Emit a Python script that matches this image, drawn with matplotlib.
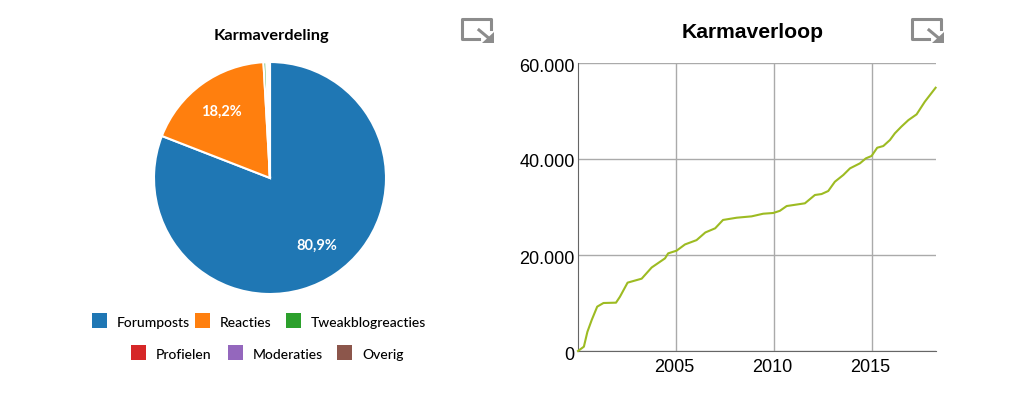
import matplotlib
matplotlib.use('Agg')
import matplotlib.pyplot as plt
from matplotlib.patches import Rectangle, Polygon
from matplotlib.ticker import FuncFormatter
from matplotlib.transforms import ScaledTranslation

W, H = 1025, 394

# pie data
pie_labels = ['Forumposts', 'Reacties', 'Tweakblogreacties', 'Profielen', 'Moderaties', 'Overig']
pie_values = [80.9, 18.2, 0.4, 0.2, 0.1, 0.2]
pie_colors = ['#1f77b4', '#ff7f0e', '#2ca02c', '#d62728', '#9467bd', '#8c564b']

# karma over time
years = [2000.0, 2000.3, 2000.48, 2000.7, 2000.98, 2001.3, 2001.94, 2002.14, 2002.53, 2003.25,
         2003.76, 2004.44, 2004.6, 2005.03, 2005.46, 2006.05, 2006.5, 2007.0, 2007.4, 2008.1,
         2008.86, 2009.45, 2009.96, 2010.3, 2010.65, 2011.58, 2012.09, 2012.43, 2012.77, 2013.11,
         2013.54, 2013.88, 2014.39, 2014.69, 2014.98, 2015.27, 2015.58, 2015.92, 2016.17, 2016.5,
         2016.86, 2017.28, 2017.7, 2018.25]
karma = [0, 900, 4000, 6460, 9240, 10000, 10070, 11300, 14240, 15070,
         17400, 19300, 20340, 20900, 22200, 23100, 24700, 25560, 27300, 27770,
         28050, 28600, 28750, 29200, 30200, 30770, 32500, 32700, 33330, 35270,
         36670, 38050, 39100, 40130, 40625, 42350, 42700, 43960, 45350, 46730,
         48100, 49300, 51940, 54850]
y_ticks = [0, 20000, 40000, 60000]
x_ticks = [2005, 2010, 2015]

fig = plt.figure(figsize=(W / 100, H / 100), dpi=100, facecolor='white')


def px_axes(left, top, right, bottom):
    return fig.add_axes([left / W, 1 - bottom / H, (right - left) / W, (bottom - top) / H])


def pct(p):
    # small slices get no label
    return f'{p:.1f}%'.replace('.', ',') if p > 5 else ''


# pie
ax1 = px_axes(154, 62, 386, 294)
wedges, texts, autotexts = ax1.pie(pie_values, colors=pie_colors, startangle=90, counterclock=False,
                                   autopct=pct, pctdistance=0.71,
                                   wedgeprops={'edgecolor': 'white', 'linewidth': 1.5})
ax1.set_xlim(-1, 1)
ax1.set_ylim(-1, 1)
for t in autotexts:
    t.set_color('white')
    t.set_fontsize(10.5)
    t.set_fontfamily('Lato')
    t.set_fontweight('bold')

fig.text(271 / W, 1 - 36 / H, 'Karmaverdeling', family='Lato', weight='bold', fontsize=11.8,
         ha='center', va='center', color='black')

# legend, laid out by hand in two rows
legend_x = [92, 195, 286, 131, 228, 337]
legend_y = [320, 320, 320, 352, 352, 352]
for name, col, lx, ly in zip(pie_labels, pie_colors, legend_x, legend_y):
    fig.add_artist(Rectangle((lx / W, 1 - (ly + 7.5) / H), 15 / W, 15 / H, color=col,
                             transform=fig.transFigure, lw=0))
    fig.text((lx + 25) / W, 1 - (ly + 3) / H, name, family='Lato', weight='medium', fontsize=10,
             ha='left', va='center', color='black')

# line chart
ax2 = px_axes(578, 63, 936, 351)
ax2.plot(years, karma, color='#9dbb22', lw=1.5, clip_on=False, zorder=3)
ax2.set_xlim(2000, 2018.27)
ax2.set_ylim(0, 60000)
ax2.set_xticks(x_ticks)
ax2.set_yticks(y_ticks)
ax2.yaxis.set_major_formatter(FuncFormatter(lambda v, _: f'{int(v):,}'.replace(',', '.')))
ax2.grid(True, color='#aaaaaa', lw=1)
ax2.set_axisbelow(True)
ax2.tick_params(axis='x', length=0, labelsize=13, pad=6, labelcolor='black')
ax2.tick_params(axis='y', length=0, labelsize=13, pad=2.5, labelcolor='black')
# labels sit a little lower / further left than the defaults
for lab in ax2.get_xticklabels():
    lab.set_fontfamily('Liberation Sans')
    lab.set_transform(lab.get_transform() + ScaledTranslation(-2 / 100, 0, fig.dpi_scale_trans))
for lab in ax2.get_yticklabels():
    lab.set_fontfamily('Liberation Sans')
    lab.set_transform(lab.get_transform() + ScaledTranslation(0, -2 / 100, fig.dpi_scale_trans))
ax2.spines['top'].set_visible(False)
ax2.spines['right'].set_visible(False)
ax2.spines['left'].set_color('#666666')
ax2.spines['bottom'].set_color('#666666')
fig.text(753 / W, 1 - 32 / H, 'Karmaverloop', family='Liberation Sans', weight='bold', fontsize=15.2,
         ha='center', va='center', color='black')


# expand icon above each chart
def icon(x0):
    box = [(x0 + 30, 29), (x0 + 30, 19), (x0 + 1, 19), (x0 + 1, 39), (x0 + 18, 39)]
    fig.add_artist(plt.Line2D([(p[0]) / W for p in box], [1 - p[1] / H for p in box],
                              color='#8c8c8c', lw=2.2, transform=fig.transFigure))
    fig.add_artist(plt.Line2D([(x0 + 18) / W, (x0 + 30) / W], [1 - 30 / H, 1 - 40 / H],
                              color='#8c8c8c', lw=2.2, transform=fig.transFigure))
    arrow = [(x0 + 33, 32), (x0 + 33, 43), (x0 + 21, 43)]
    fig.add_artist(Polygon([(p[0] / W, 1 - p[1] / H) for p in arrow], color='#8c8c8c',
                           transform=fig.transFigure, lw=0))


icon(461)
icon(911)

fig.savefig('out.png', dpi=100)
